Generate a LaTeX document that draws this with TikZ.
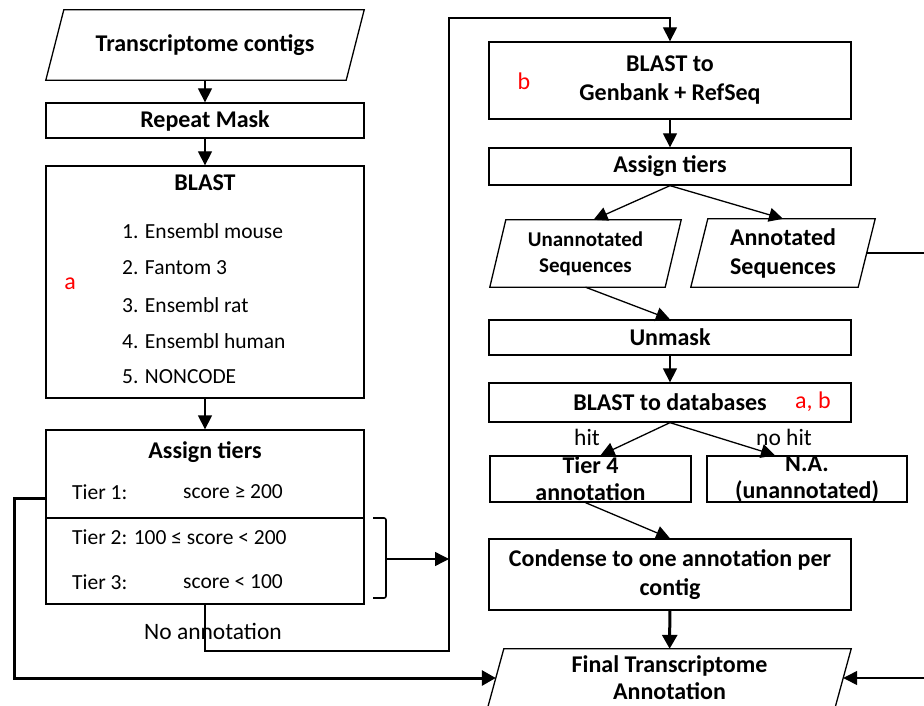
\documentclass[tikz,border=0pt]{standalone}
\usepackage{fontspec}
\setmainfont{Carlito}
\usetikzlibrary{arrows.meta, positioning, calc}
% outline of a data box, leaning right: node name, slant
\newcommand{\drawslant}[2]{%
    \draw[line width=1.3pt] ($(#1.north west)+(#2,0)$) -- (#1.north east)
        -- ($(#1.south east)+(-#2,0)$) -- (#1.south west) -- cycle;}

\begin{document}
\begin{tikzpicture}[x=1pt, y=-1pt,
    box/.style={draw, line width=1.3pt, inner sep=0pt, align=center, font=\bfseries\fontsize{24}{29}\selectfont},
    para/.style={inner sep=0pt, align=center, font=\bfseries\fontsize{24}{29}\selectfont},
    title/.style={font=\bfseries\fontsize{24}{29}\selectfont},
    item/.style={anchor=west, inner sep=0pt, font=\fontsize{21.5}{26}\selectfont},
    note/.style={inner sep=0pt, font=\fontsize{23.5}{28}\selectfont},
    tag/.style={inner sep=0pt, text=red, font=\fontsize{24}{29}\selectfont},
    arr/.style={line width=1.3pt, -{Triangle[length=14pt,width=14pt]}},
    fatarr/.style={line width=3pt, -{Triangle[length=14pt,width=15pt]}}]

    \clip (0,0) rectangle (924,706);

    % Nodes, left column
    \node (contigs) at (205,45) [para, minimum width=318pt, minimum height=70pt] {Transcriptome contigs};
    \node (repeat) at (205,120.5) [box, minimum width=318pt, minimum height=35pt] {Repeat Mask};

    \node (blast) at (205,282) [box, minimum width=318pt, minimum height=232pt] {};
    \node (blasttitle) at (205,183) [title] {BLAST};
    \foreach \i/\db/\y in {1/Ensembl mouse/231, 2/Fantom 3/268, 3/Ensembl rat/305, 4/Ensembl human/341, 5/NONCODE/377}
        \node (db\i) at (122,\y) [item] {\i. \db};
    \node (taga) at (70,284) [tag] {a};

    \node (tiers) at (205,517) [box, minimum width=318pt, minimum height=174pt] {};
    \node (tierstitle) at (205,452) [title] {Assign tiers};
    \node (t1) at (72,492) [item] {Tier 1:};
    \node (s1) at (183,492) [item] {score ≥ 200};
    \node (t2) at (72,537) [item] {Tier 2: 100 ≤ score < 200};
    \node (t3) at (72,582) [item] {Tier 3:};
    \node (s3) at (183,582) [item] {score < 100};
    \node (noann) at (213,631) [note] {No annotation};

    % Nodes, right column
    \node (blastg) at (670,80.5) [box, minimum width=362pt, minimum height=77pt] {BLAST to\\Genbank + RefSeq};
    \node (tagb) at (524,81) [tag] {b};
    \node (tiersr) at (670,166.5) [box, minimum width=362pt, minimum height=37pt] {Assign tiers};

    \node (unann) at (585.5,253.5) [para, minimum width=191pt, minimum height=67pt, font=\bfseries\fontsize{21}{26}\selectfont] {Unannotated\\Sequences};
    \node (annot) at (783,253) [para, minimum width=184pt, minimum height=68pt] {Annotated\\Sequences};

    \node (unmask) at (670,337.5) [box, minimum width=362pt, minimum height=35pt] {Unmask};
    \node (blastdb) at (670,402.5) [box, minimum width=362pt, minimum height=39pt] {BLAST to databases};
    \node (tagab) at (813,402) [tag] {a, b};

    \node (tier4) at (590.5,479) [box, minimum width=201pt, minimum height=46pt, font=\bfseries\fontsize{24}{27}\selectfont] {Tier 4\\annotation};
    \node (na) at (807,479) [box, minimum width=200pt, minimum height=46pt, font=\bfseries\fontsize{24}{27}\selectfont] {N.A.\\(unannotated)};
    \node (hit) at (587,437) [note] {hit};
    \node (nohit) at (784,437) [note] {no hit};

    \node (condense) at (670,574.5) [box, minimum width=362pt, minimum height=71pt] {Condense to one annotation per\\contig};
    \node (final) at (669.5,678) [para, minimum width=363pt, minimum height=58pt, font=\bfseries\fontsize{24}{27}\selectfont] {Final Transcriptome\\Annotation};

    \drawslant{contigs}{18}
    \drawslant{unann}{16}
    \drawslant{annot}{17}
    \drawslant{final}{16}

    % Bends
    \coordinate (divl) at (46,518);
    \coordinate (divr) at (364,518);
    \coordinate (brace) at (386,559);
    \coordinate (trunk) at (449,559);
    \coordinate (lowbend) at (449,651);
    \coordinate (topbend) at (449,18);
    \coordinate (leftbend) at (14,498);
    \coordinate (rightbend) at (934,253);

    % Edges
    \draw[line width=1.3pt] (divl) -- (divr);
    \draw[line width=1.6pt, rounded corners=2pt] (373,518) -| (brace) |- (373,598);
    \draw[arr] (brace) -- (trunk);

    \draw[arr] (contigs) -- (repeat);
    \draw[arr] (repeat) -- (blast);
    \draw[arr] (blast) -- (tiers);
    \draw[arr] (tiers.south) |- (lowbend) -- (topbend) -| (blastg.north);
    \draw[fatarr] (tiers.west |- leftbend) -- (leftbend) |- ($(final.west)+(8,0)$);

    \draw[arr] (blastg) -- (tiersr);
    \draw[arr] (tiersr.south) -- ($(unann.north)+(8,0)$);
    \draw[arr] (tiersr.south) -- (annot.north);
    \draw[line width=1.3pt] ($(annot.east)+(-8.5,0)$) -- (rightbend);
    \draw[arr] (rightbend) |- ($(final.east)+(-8,0)$);
    \draw[arr] (unann.south) -- (unmask.north);
    \draw[arr] (unmask) -- (blastdb);
    \draw[arr] (blastdb.south) -- ($(tier4.north)+(10,0)$);
    \draw[arr] (blastdb.south) -- ($(na.north)+(-32,0)$);
    \draw[arr] ($(tier4.south)+(-5,0)$) -- (condense.north);
    \draw[fatarr] (condense) -- (final);

\end{tikzpicture}
\end{document}
